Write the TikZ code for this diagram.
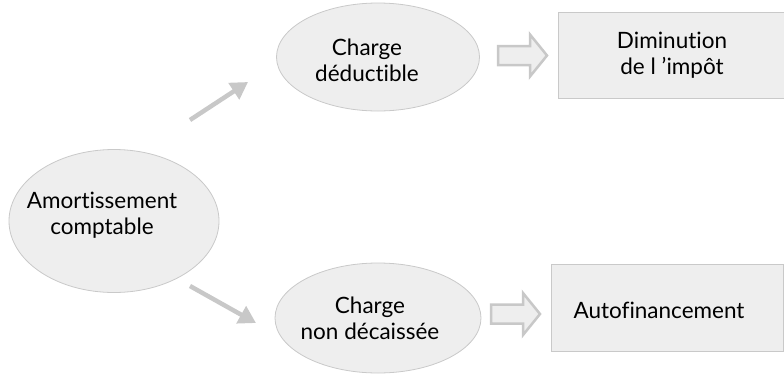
\documentclass[tikz,border=0pt]{standalone}
\usepackage{fontspec}
\setmainfont[Ligatures=NoCommon]{Lato}
\usepackage{tikz}
\usetikzlibrary{shapes.geometric}
\usetikzlibrary{arrows.meta}
\definecolor{bubblefill}{HTML}{EEEEEE}
\definecolor{bubbleline}{HTML}{C9C9C9}
\definecolor{arrowgray}{HTML}{C8C8C8}
\def\blockarrow(#1)% Syntax: (start of the shaft, on its axis)
{ \draw[blockarr] (#1) ++(0,-9.5) -- ++(32,0) -- ++(0,-11.5) -- ++(17,21) -- ++(-17,21) -- ++(0,-11.5) -- ++(-32,0) -- cycle; }
\tikzset{
	bubble/.style={ellipse,draw=bubbleline,fill=bubblefill,line width=.8pt},
	plainbox/.style={rectangle,draw=bubbleline,fill=bubblefill,line width=.8pt},
	txt/.style={align=center,font=\fontsize{22.5}{26}\selectfont,inner sep=0pt},
	thickarr/.style={draw=arrowgray,line width=4.5pt,-{Triangle[length=17pt,width=19pt]}},
	blockarr/.style={draw=arrowgray,fill=bubblefill,line width=2.5pt,line join=miter},
}

\begin{document}
\begin{tikzpicture}[x=1pt,y=-1pt]
		\useasboundingbox (0,0) rectangle (784,373);
		\node[bubble,minimum width=210pt,minimum height=143pt] (amort) at (114,221) {};
		\node[bubble,minimum width=203pt,minimum height=108pt] (deduc) at (378,57) {};
		\node[bubble,minimum width=206pt,minimum height=110pt] (decai) at (378,318) {};
		\node[plainbox,minimum width=230pt,minimum height=86pt] (impot) at (673,55) {};
		\node[plainbox,minimum width=232pt,minimum height=87pt] (autof) at (667,307.5) {};
		\node[txt] (amort-t) at ([xshift=-12pt,yshift=6pt]amort.center) {Amortissement\\comptable};
		\node[txt] (deduc-t) at ([xshift=-11pt,yshift=-3pt]deduc.center) {Charge\\déductible};
		\node[txt] (decai-t) at ([xshift=-8pt]decai.center) {Charge\\non décaissée};
		\node[txt] (impot-t) at ([xshift=-1pt]impot.center) {Diminution\\de l ’impôt};
		\node[txt] (autof-t) at ([xshift=-8pt,yshift=-3pt]autof.center) {Autofinancement};
		\coordinate (up0) at (190,120);
		\coordinate (up1) at (248,82);
		\coordinate (dn0) at (190,286);
		\coordinate (dn1) at (256,323);
		\draw[thickarr] (up0) -- (up1);
		\draw[thickarr] (dn0) -- (dn1);
		\coordinate (ba1) at (498,55.5);
		\coordinate (ba2) at (491,314);
		\blockarrow(ba1)
		\blockarrow(ba2)
	\end{tikzpicture}
\end{document}
